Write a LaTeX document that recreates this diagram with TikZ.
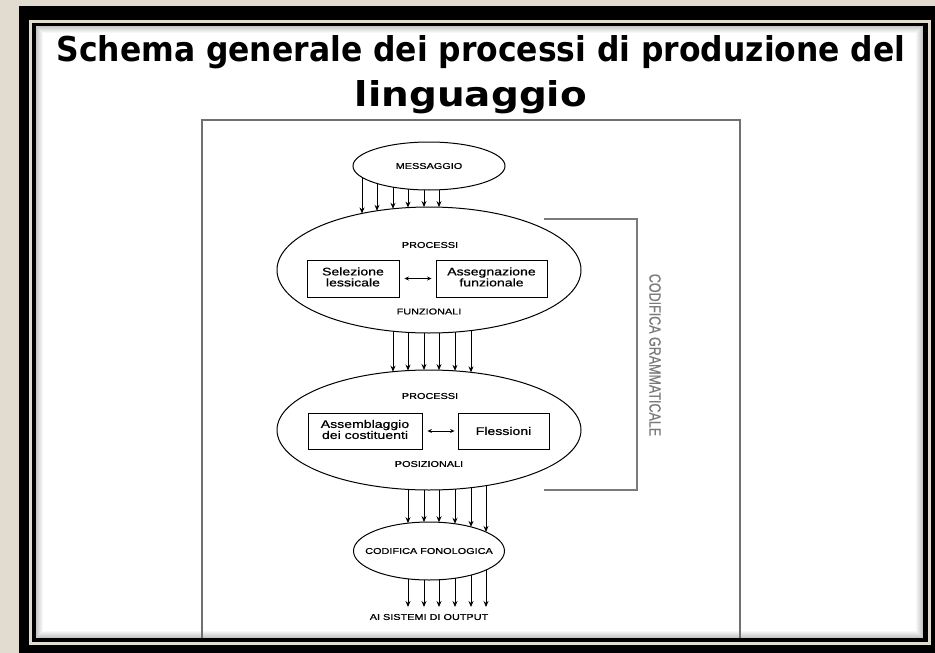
\documentclass[tikz,border=0pt]{standalone}
\usepackage{fontspec}
\setmainfont{Liberation Sans}
\newfontfamily\diafont{Liberation Sans}[FakeBold=0.6]
\newfontfamily\titlefont{DejaVu Sans}[BoldFont={DejaVu Sans Bold}]
\usetikzlibrary{shapes.geometric,arrows.meta}
\definecolor{beige}{HTML}{E2DBCF}
\definecolor{bracketgray}{HTML}{7A7A7A}
\definecolor{framegray}{HTML}{707070}
\newcommand{\sx}[1]{\scalebox{1.28}[1]{#1}}
\tikzset{
  ell/.style={draw=black,line width=1pt,ellipse,inner sep=0pt},
  procbox/.style={draw=black,line width=0.9pt,rectangle,inner sep=0pt,align=center,
    font=\diafont\fontsize{11}{12}\selectfont},
  caps/.style={font=\diafont\fontsize{8.5}{8.5}\selectfont,inner sep=0pt},
  flow/.style={line width=0.9pt,-{Stealth[length=6pt,width=5pt]}},
  dbl/.style={line width=0.9pt,{Stealth[length=4.5pt,width=4pt]}-{Stealth[length=4.5pt,width=4pt]}},
  brk/.style={draw=bracketgray,line width=2.6pt},
}
\begin{document}
\begin{tikzpicture}[x=1pt,y=-1pt]
\useasboundingbox (0,0) rectangle (935,653);
% background and frame
\fill[beige] (0,0) rectangle (935,653);
\fill[black] (19,6) rectangle (945,663);
\fill[beige] (29,20) rectangle (931,645);
\fill[black] (32,23) rectangle (928,642);
\fill[white] (36,26) rectangle (923,638);
\foreach \i in {0,...,6}{
  \draw[black,opacity={0.22*(1-\i/7)},line width=1pt]
    ({36.5+\i},{26.5+\i}) rectangle ({922.5-\i},{637.5-\i});
}
% title
\node[anchor=base,inner sep=0pt] (t1) at (481,61)
  {\resizebox{849pt}{26pt}{\titlefont\bfseries Schema generale dei processi di produzione del}};
\node[anchor=base,inner sep=0pt] (t2) at (471,106)
  {\resizebox{232pt}{26pt}{\titlefont\bfseries linguaggio}};
% diagram frame
\coordinate (fbl) at (202,638);
\coordinate (ftl) at (202,120);
\coordinate (ftr) at (740,120);
\coordinate (fbr) at (740,638);
\draw[framegray,line width=1.6pt] (fbl) -- (ftl) -- (ftr) -- (fbr);
% ellipses
\node[ell,minimum width=152pt,minimum height=48pt] (e0) at (429,166) {};
\node[ell,minimum width=304pt,minimum height=126pt] (e1) at (429,270) {};
\node[ell,minimum width=304pt,minimum height=120pt] (e2) at (429,430) {};
\node[ell,minimum width=151pt,minimum height=58pt] (e3) at (429,551) {};
% labels
\node[caps] (m) at (e0.center) {\sx{MESSAGGIO}};
\node[caps] (cf) at (e3.center) {\sx{CODIFICA FONOLOGICA}};
\node[caps] (p1) at (430,245) {\sx{PROCESSI}};
\node[caps] (f1) at (429,311.5) {\sx{FUNZIONALI}};
\node[caps] (p2) at (430,396) {\sx{PROCESSI}};
\node[caps] (f2) at (429,464) {\sx{POSIZIONALI}};
% boxes
\node[procbox,minimum width=92pt,minimum height=37pt] (b1) at (353,278.5)
  {\sx{\begin{tabular}{@{}c@{}}Selezione\\[-1pt]lessicale\end{tabular}}};
\node[procbox,minimum width=111pt,minimum height=37pt] (b2) at (491.5,278.5)
  {\sx{\begin{tabular}{@{}c@{}}Assegnazione\\[-1pt]funzionale\end{tabular}}};
\node[procbox,minimum width=114pt,minimum height=36pt] (b3) at (365,431)
  {\sx{\begin{tabular}{@{}c@{}}Assemblaggio\\[-1pt]dei costituenti\end{tabular}}};
\node[procbox,minimum width=91pt,minimum height=36pt] (b4) at (503.5,431)
  {\sx{Flessioni}};
\draw[dbl,shorten <=5pt,shorten >=4pt] (b1.east) -- (b2.west);
\draw[dbl,shorten <=5pt,shorten >=3pt] (b3.east) -- (b4.west);
% flows
\foreach \x in {362,377,393,408,424,439}{
  \draw[flow] (\x,{166+24*sqrt(1-((\x-429)/76)^2)}) -- (\x,{270-63*sqrt(1-((\x-429)/152)^2)});
}
\foreach \x in {393,408,424,439,455,471}{
  \draw[flow] (\x,{270+63*sqrt(1-((\x-429)/152)^2)}) -- (\x,{430-60*sqrt(1-((\x-429)/152)^2)});
}
\foreach \x in {408,424,439,455,471,486}{
  \draw[flow] (\x,{430+60*sqrt(1-((\x-429)/152)^2)}) -- (\x,{551-29*sqrt(1-((\x-429)/75.5)^2)});
}
\node[caps] (out) at (429,617) {\sx{AI SISTEMI DI OUTPUT}};
\foreach \x in {408,424,439,455,471,486}{
  \draw[flow] (\x,{551+29*sqrt(1-((\x-429)/75.5)^2)}) -- (\x,607);
}
% bracket
\coordinate (k1) at (544,219);
\coordinate (k2) at (637,219);
\coordinate (k3) at (637,490);
\coordinate (k4) at (544,490);
\draw[brk] (k1) -- (k2) -- (k3) -- (k4);
\node[inner sep=0pt,text=bracketgray] (cg) at (655,355)
  {\rotatebox{-90}{\scalebox{1}[1.3]{\diafont\fontsize{12.5}{12.5}\selectfont CODIFICA GRAMMATICALE}}};
\end{tikzpicture}
\end{document}
